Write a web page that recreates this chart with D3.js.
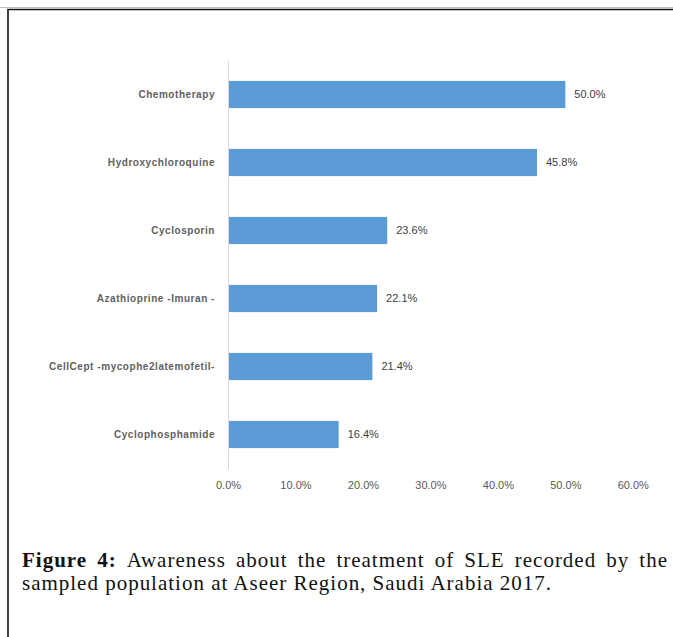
<!DOCTYPE html>
<html>
<head>
<meta charset="utf-8">
<script src="https://cdn.jsdelivr.net/npm/d3@7/dist/d3.min.js"></script>
<style>
  html, body { margin: 0; padding: 0; background: #fff; }
  svg { display: block; }
</style>
</head>
<body>
<script>
// Treatment awareness shares (percent of respondents)
const categories = [
  "Chemotherapy",
  "Hydroxychloroquine",
  "Cyclosporin",
  "Azathioprine -Imuran -",
  "CellCept -mycophe2latemofetil-",
  "Cyclophosphamide"
];
const values = [50.0, 45.8, 23.6, 22.1, 21.4, 16.4];
const xTicks = [0, 10, 20, 30, 40, 50, 60];
const captionBold = "Figure 4:";
const captionLine1 = "Awareness about the treatment of SLE recorded by the";
const captionLine2 = "sampled population at Aseer Region, Saudi Arabia 2017.";

const W = 673, H = 637;
const svg = d3.select("body").append("svg").attr("width", W).attr("height", H);

// Frame around the figure
svg.append("line").attr("x1", 0).attr("x2", W).attr("y1", 7.5).attr("y2", 7.5)
  .attr("stroke", "#bdbdbd").attr("stroke-width", 1);
svg.append("path").attr("d", `M8,${H} V9.5 H${W}`)
  .attr("fill", "none").attr("stroke", "#111").attr("stroke-width", 1.6);

// Scales
const x = d3.scaleLinear().domain([0, 60]).range([228, 632.8]);
const y = d3.scaleBand().domain(categories).range([60.5, 468.5])
  .paddingInner(0.6).paddingOuter(0.3);

const sans = "'Liberation Sans', Arial, sans-serif";

// Bars
svg.append("g").selectAll("rect").data(values).join("rect")
  .attr("x", x(0))
  .attr("y", (d, i) => y(categories[i]))
  .attr("width", d => x(d) - x(0))
  .attr("height", y.bandwidth())
  .attr("fill", "#5b9bd5");

// Category axis line
svg.append("line")
  .attr("x1", x(0) + 0.5).attr("x2", x(0) + 0.5)
  .attr("y1", 60.5).attr("y2", 469.5)
  .attr("stroke", "#d9d9d9").attr("stroke-width", 1);

// Category labels
svg.append("g").selectAll("text").data(categories).join("text")
  .attr("x", 215)
  .attr("y", d => y(d) + y.bandwidth() / 2)
  .attr("dy", "0.35em")
  .attr("text-anchor", "end")
  .attr("font-family", sans).attr("font-size", 10).attr("font-weight", "bold")
  .attr("letter-spacing", 0.55)
  .attr("fill", "#5f5f5f")
  .text(d => d);

// Value labels
svg.append("g").selectAll("text").data(values).join("text")
  .attr("x", d => x(d) + 9)
  .attr("y", (d, i) => y(categories[i]) + y.bandwidth() / 2)
  .attr("dy", "0.35em")
  .attr("font-family", sans).attr("font-size", 11)
  .attr("fill", "#404040")
  .text(d => d.toFixed(1) + "%");

// Value axis (labels only)
const xAxis = d3.axisBottom(x).tickValues(xTicks)
  .tickFormat(d => d.toFixed(1) + "%").tickSize(0).tickPadding(0);
const gx = svg.append("g").attr("transform", "translate(0,481)").call(xAxis);
gx.select(".domain").remove();
gx.selectAll("text")
  .attr("font-family", sans).attr("font-size", 11).attr("fill", "#595959")
  .attr("dy", "0.71em");

// Caption
const serif = "'Liberation Serif', 'Times New Roman', serif";
const capSize = 21;
const left = 22, right = 668;

// Second line: fit letter spacing to its width
const l2 = svg.append("text")
  .attr("x", left).attr("y", 590)
  .attr("font-family", serif).attr("font-size", capSize).attr("fill", "#111")
  .text(captionLine2);
const natural2 = l2.node().getComputedTextLength();
const ls = Math.max(0, (551 - left - natural2) / (captionLine2.length - 1));
l2.attr("letter-spacing", ls);

// First line: justified word by word
const words = [];
captionBold.split(" ").forEach(w => words.push({ w, bold: true }));
captionLine1.split(" ").forEach(w => words.push({ w, bold: false }));
const wg = svg.append("g");
const nodes = words.map(o => wg.append("text")
  .attr("y", 567)
  .attr("font-family", serif).attr("font-size", capSize)
  .attr("font-weight", o.bold ? "bold" : "normal")
  .attr("letter-spacing", ls)
  .attr("fill", "#111")
  .text(o.w));
const widths = nodes.map(n => n.node().getComputedTextLength());
const total = d3.sum(widths);
const gap = (right - left - total) / (nodes.length - 1);
let cx = left;
nodes.forEach((n, i) => { n.attr("x", cx); cx += widths[i] + gap; });
</script>
</body>
</html>
